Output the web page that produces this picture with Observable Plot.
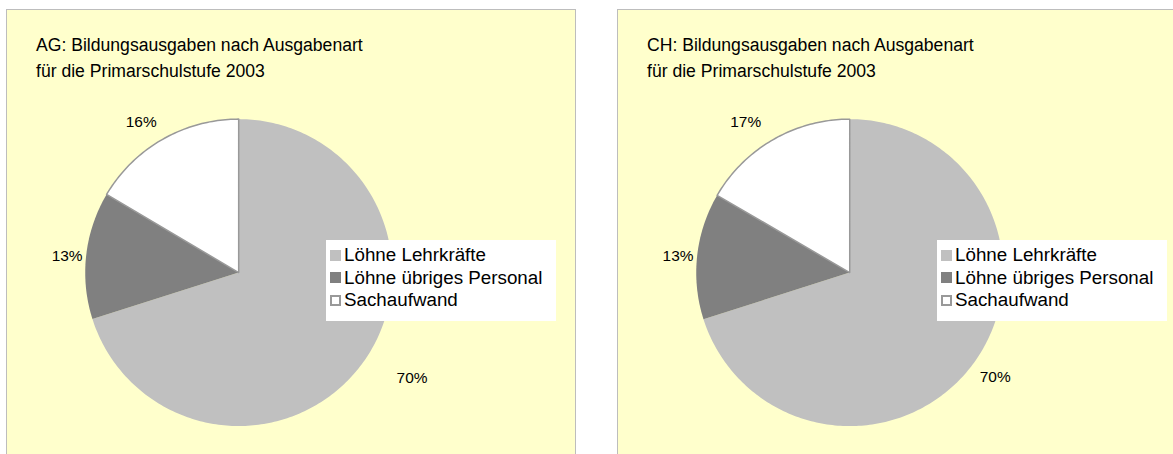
<!DOCTYPE html>
<html>
<head>
<meta charset="utf-8">
<script src="https://cdn.jsdelivr.net/npm/d3@7"></script>
<script src="https://cdn.jsdelivr.net/npm/@observablehq/plot@0.6"></script>
<style>
  body { margin: 0; background: #ffffff; font-family: "Liberation Sans", Arial, sans-serif; }
  #root { position: relative; width: 1173px; height: 454px; overflow: hidden; }
  .panel { position: absolute; top: 9px; height: 470px; background: #FFFFCC; border: 1px solid #BDBDBD; box-sizing: border-box; overflow: hidden; }
  .panel svg { position: absolute; left: 0; top: 0; }
  .title { position: absolute; left: 29px; top: 23px; font-size: 17.6px; line-height: 25.5px; color: #000; white-space: nowrap; }
  .legend { position: absolute; left: 319px; top: 230px; width: 230px; height: 81px; background: #ffffff; box-sizing: border-box; padding-top: 4px; }
  .legend .row { display: flex; align-items: center; height: 22.5px; font-size: 18.8px; color: #000; white-space: nowrap; }
  .legend .sw { width: 11px; height: 11px; margin-left: 4px; margin-right: 3px; box-sizing: border-box; flex: none; }
</style>
</head>
<body>
<div id="root"></div>
<script>
// ---- data ----
const categories = ["Löhne Lehrkräfte", "Löhne übriges Personal", "Sachaufwand"];
const valuesAG = [70.1, 13.4, 16.5];
const valuesCH = [70.1, 13.3, 16.6];
const labelsAG = ["70%", "13%", "16%"];
const labelsCH = ["70%", "13%", "17%"];
const titleAG = ["AG: Bildungsausgaben nach Ausgabenart", "für die Primarschulstufe 2003"];
const titleCH = ["CH: Bildungsausgaben nach Ausgabenart", "für die Primarschulstufe 2003"];
const sliceColors = ["#C0C0C0", "#808080", "#FFFFFF"];
const swatchBorders = ["#C0C0C0", "#808080", "#999999"];

// layout: per-panel pixel nudges of the percentage labels (Excel-style placement)
const panels = [
  {left: 6, width: 570, title: titleAG, values: valuesAG, labels: labelsAG, nudge: [[26, 2], [10, 3], [-7, 1]]},
  {left: 617, width: 600, title: titleCH, values: valuesCH, labels: labelsCH, nudge: [[-2, 1], [10, 3], [-13, 1]]}
];

const root = document.getElementById("root");
const PH = 445;           // svg height inside panel
const CX = 232, CY = 263, R = 154; // pie layout inside panel
const LABEL_FS = 15.5;

for (const p of panels) {
  const div = document.createElement("div");
  div.className = "panel";
  div.style.left = p.left + "px";
  div.style.width = p.width + "px";
  root.appendChild(div);

  const arcs = d3.pie().sort(null).value(d => d)(p.values);
  const pts = [];
  arcs.forEach((a, i) => {
    const cat = categories[i];
    pts.push({cat, x: 0, y: 0});
    const n = Math.max(2, Math.ceil((a.endAngle - a.startAngle) / (Math.PI / 180)));
    for (let k = 0; k <= n; k++) {
      const t = a.startAngle + (a.endAngle - a.startAngle) * k / n;
      pts.push({cat, x: Math.sin(t), y: -Math.cos(t)});
    }
  });

  const labelData = arcs.map((a, i) => {
    const m = (a.startAngle + a.endAngle) / 2;
    const s = Math.sin(m), c = Math.cos(m);
    const rr = 1.09;
    const w = 2.0 * LABEL_FS / 2, h = LABEL_FS / 2;
    return {
      text: p.labels[i],
      x: s * rr + (w * s + p.nudge[i][0]) / R,
      y: -c * rr + (-h * c + p.nudge[i][1]) / R
    };
  });

  const chart = Plot.plot({
    width: p.width,
    height: PH,
    margin: 0,
    style: {background: "transparent", overflow: "visible"},
    x: {domain: [-1, 1], range: [CX - R, CX + R], axis: null},
    y: {domain: [-1, 1], range: [CY - R, CY + R], axis: null},
    color: {domain: categories, range: sliceColors},
    marks: [
      Plot.line(pts, {x: "x", y: "y", z: "cat", fill: "cat", stroke: null, curve: "linear-closed"}),
      Plot.line(pts.filter(d => d.cat === categories[2]), {x: "x", y: "y", curve: "linear-closed", stroke: "#999999", strokeWidth: 1.5, fill: "none"}),
      Plot.text(labelData, {x: "x", y: "y", text: "text", fontSize: LABEL_FS, fill: "#000", fontFamily: "Liberation Sans, Arial, sans-serif", textAnchor: "middle", lineAnchor: "middle"})
    ]
  });
  div.appendChild(chart);

  const title = document.createElement("div");
  title.className = "title";
  title.innerHTML = p.title.join("<br>");
  div.appendChild(title);

  const leg = document.createElement("div");
  leg.className = "legend";
  categories.forEach((c, i) => {
    const row = document.createElement("div");
    row.className = "row";
    const sw = document.createElement("span");
    sw.className = "sw";
    sw.style.background = sliceColors[i];
    sw.style.border = (i === 2 ? "2px" : "1px") + " solid " + swatchBorders[i];
    row.appendChild(sw);
    const tx = document.createElement("span");
    tx.textContent = c;
    row.appendChild(tx);
    leg.appendChild(row);
  });
  div.appendChild(leg);
}
</script>
</body>
</html>
